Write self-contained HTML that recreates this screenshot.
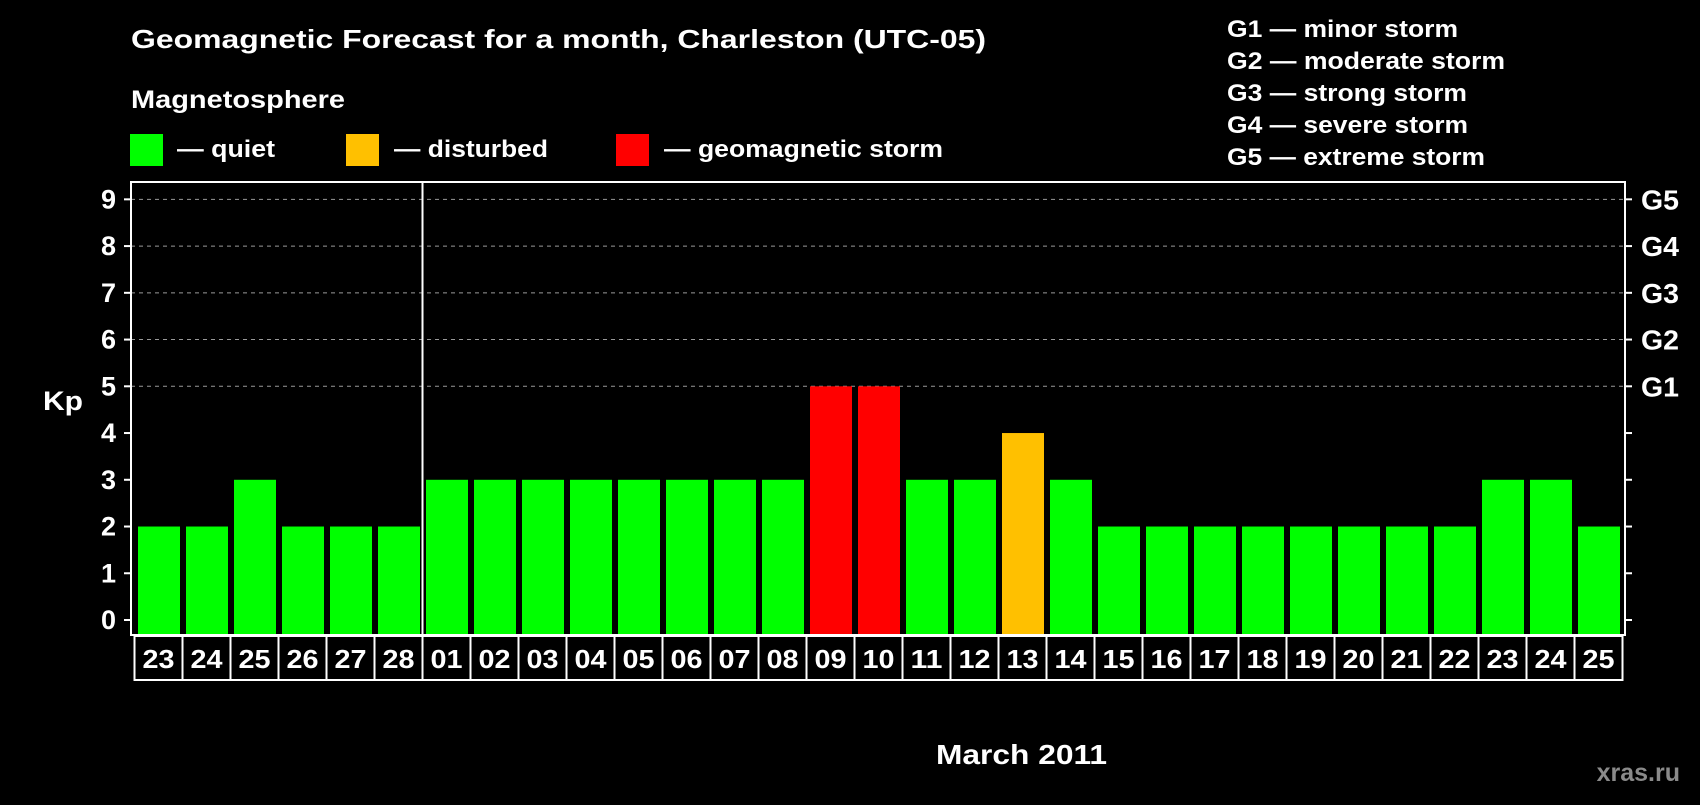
<!DOCTYPE html>
<html><head><meta charset="utf-8"><style>
body{margin:0;background:#000;width:1700px;height:800px;overflow:hidden;font-family:"Liberation Sans",Arial,sans-serif;}
svg text{font-family:"Liberation Sans",Arial,sans-serif;font-weight:bold;fill:#fff;}
</style></head><body>
<svg id="c" width="1700" height="800">
<text x="131" y="48" font-size="26" textLength="855" lengthAdjust="spacingAndGlyphs">Geomagnetic Forecast for a month, Charleston (UTC-05)</text>
<text x="131" y="108" font-size="25" textLength="214" lengthAdjust="spacingAndGlyphs">Magnetosphere</text>
<rect x="130" y="134" width="33" height="32" fill="#00ff00"/>
<text x="177" y="157" font-size="24" textLength="98" lengthAdjust="spacingAndGlyphs">— quiet</text>
<rect x="346" y="134" width="33" height="32" fill="#ffc000"/>
<text x="394" y="157" font-size="24" textLength="154" lengthAdjust="spacingAndGlyphs">— disturbed</text>
<rect x="616" y="134" width="33" height="32" fill="#ff0000"/>
<text x="664" y="157" font-size="24" textLength="279" lengthAdjust="spacingAndGlyphs">— geomagnetic storm</text>
<g font-size="24">
<text x="1227" y="37" textLength="231" lengthAdjust="spacingAndGlyphs">G1 — minor storm</text>
<text x="1227" y="69" textLength="278" lengthAdjust="spacingAndGlyphs">G2 — moderate storm</text>
<text x="1227" y="101" textLength="240" lengthAdjust="spacingAndGlyphs">G3 — strong storm</text>
<text x="1227" y="133" textLength="241" lengthAdjust="spacingAndGlyphs">G4 — severe storm</text>
<text x="1227" y="165" textLength="258" lengthAdjust="spacingAndGlyphs">G5 — extreme storm</text>
</g>
<text x="43" y="410" font-size="27" textLength="40" lengthAdjust="spacingAndGlyphs">Kp</text>
<text x="936" y="764" font-size="28" textLength="171" lengthAdjust="spacingAndGlyphs">March 2011</text>
<text x="1680" y="781" font-size="25" style="fill:#8a8a8a" text-anchor="end">xras.ru</text>
<g id="plot"></g>
</svg>
<script>
const labels=["23","24","25","26","27","28","01","02","03","04","05","06","07","08","09","10","11","12","13","14","15","16","17","18","19","20","21","22","23","24","25"];
const values=[2,2,3,2,2,2,3,3,3,3,3,3,3,3,5,5,3,3,4,3,2,2,2,2,2,2,2,2,3,3,2];
const yTicks=[0,1,2,3,4,5,6,7,8,9];
const gLabels=["G1","G2","G3","G4","G5"];
const gLevels=[5,6,7,8,9];
const NS="http://www.w3.org/2000/svg";
const g=document.getElementById('plot');
const L=131,R=1625,T=182,B=635;
function y(v){return 620-46.74*v;}
function x(i){return 135+48*i;}
function mk(t,a){const e=document.createElementNS(NS,t);for(const k in a)e.setAttribute(k,a[k]);g.appendChild(e);return e;}
for(const v of gLevels){const l=mk('line',{x1:L,x2:R,y1:y(v),y2:y(v),stroke:'#999','stroke-dasharray':'4,4','stroke-width':1});

}
values.forEach((v,i)=>{const c=v>=5?'#ff0000':(v>=4?'#ffc000':'#00ff00');
const r=mk('rect',{x:x(i)+3,y:y(v),width:42,height:B-y(v),fill:c});

});
const fr=mk('rect',{x:L,y:T,width:R-L,height:B-T,fill:'none',stroke:'#fff','stroke-width':2});


const dv=mk('line',{x1:x(6)-0.5,x2:x(6)-0.5,y1:T,y2:B,stroke:'#fff','stroke-width':2});


yTicks.forEach(v=>{mk('line',{x1:L-7,x2:L,y1:y(v),y2:y(v),stroke:'#fff','stroke-width':2});
mk('line',{x1:R,x2:R+7,y1:y(v),y2:y(v),stroke:'#fff','stroke-width':2});
const t=mk('text',{x:116,y:y(v)+9,'font-size':27,'text-anchor':'end'});t.textContent=v;

});
gLabels.forEach((s,i)=>{const t=mk('text',{x:1641,y:y(gLevels[i])+10,'font-size':28,textLength:38,lengthAdjust:'spacingAndGlyphs'});t.textContent=s;

});
labels.forEach((s,i)=>{const bx=mk('rect',{x:134.5+48*i,y:636,width:48,height:44,fill:'none',stroke:'#fff','stroke-width':2});


const t=mk('text',{x:142.5+48*i,y:668,'font-size':26,textLength:32,lengthAdjust:'spacingAndGlyphs'});t.textContent=s;

});
</script>
</body></html>
